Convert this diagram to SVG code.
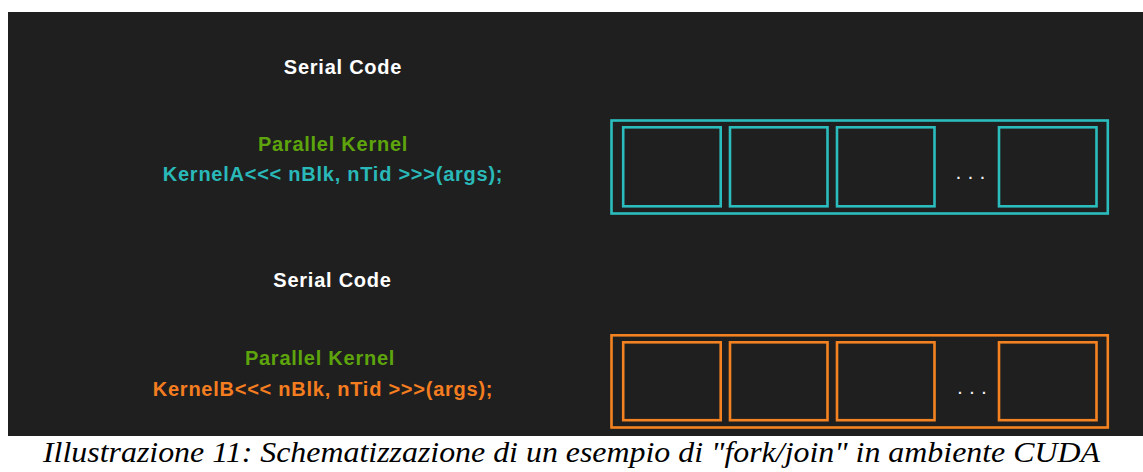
<svg xmlns="http://www.w3.org/2000/svg" width="1143" height="472" viewBox="0 0 1143 472">
  <style>
    .lbl { font-family: "Liberation Sans", Arial, sans-serif; font-weight: bold; font-size: 20px; letter-spacing: 0.75px; text-anchor: middle; }
    .white { fill: #ffffff; }
    .green { fill: #5ea40c; }
    .teal { fill: #2ab9b9; }
    .orange { fill: #f47d20; }
    .tealbox { fill: none; stroke: #2bbdbd; stroke-width: 2.6; }
    .orangebox { fill: none; stroke: #f58220; stroke-width: 2.6; }
    .dots { font-family: "Liberation Sans", Arial, sans-serif; font-weight: bold; font-size: 14px; letter-spacing: 8.1px; fill: #f4f4f4; }
    .caption { font-family: "Liberation Serif", "Times New Roman", serif; font-style: italic; font-size: 29px; fill: #000000; }
  </style>
  <rect x="0" y="0" width="1143" height="472" fill="#ffffff"/>
  <rect id="background" x="8" y="12" width="1135" height="424" fill="#1f1f1f"/>

  <g id="serial-code-1">
    <text class="lbl white" x="343" y="74">Serial Code</text>
  </g>
  <g id="kernel-a-label">
    <text class="lbl green" x="333" y="151">Parallel Kernel</text>
    <text class="lbl teal" x="333" y="181">KernelA&lt;&lt;&lt; nBlk, nTid &gt;&gt;&gt;(args);</text>
  </g>
  <g id="kernel-a-grid">
    <rect class="tealbox" x="611.5" y="120.5" width="496.3" height="93"/>
    <rect class="tealbox" x="623.2" y="127.3" width="97.5" height="79"/>
    <rect class="tealbox" x="730" y="127.3" width="97.5" height="79"/>
    <rect class="tealbox" x="837" y="127.3" width="97.5" height="79"/>
    <rect class="tealbox" x="999" y="127.3" width="97.5" height="79"/>
    <text class="dots" x="956.5" y="178.5">...</text>
  </g>

  <g id="serial-code-2">
    <text class="lbl white" x="332.5" y="286.7">Serial Code</text>
  </g>
  <g id="kernel-b-label">
    <text class="lbl green" x="320" y="365.3">Parallel Kernel</text>
    <text class="lbl orange" x="323" y="396">KernelB&lt;&lt;&lt; nBlk, nTid &gt;&gt;&gt;(args);</text>
  </g>
  <g id="kernel-b-grid">
    <rect class="orangebox" x="611.5" y="335.3" width="496.3" height="92.2"/>
    <rect class="orangebox" x="623.2" y="342.3" width="97.5" height="77.9"/>
    <rect class="orangebox" x="730" y="342.3" width="97.5" height="77.9"/>
    <rect class="orangebox" x="837" y="342.3" width="97.5" height="77.9"/>
    <rect class="orangebox" x="999" y="342.3" width="97.5" height="77.9"/>
    <text class="dots" x="958" y="393.5">...</text>
  </g>

  <g id="connectors"></g>

  <g id="caption">
    <text class="caption" x="43" y="462" textLength="1057" lengthAdjust="spacingAndGlyphs">Illustrazione 11: Schematizzazione di un esempio di "fork/join" in ambiente CUDA</text>
  </g>
</svg>
